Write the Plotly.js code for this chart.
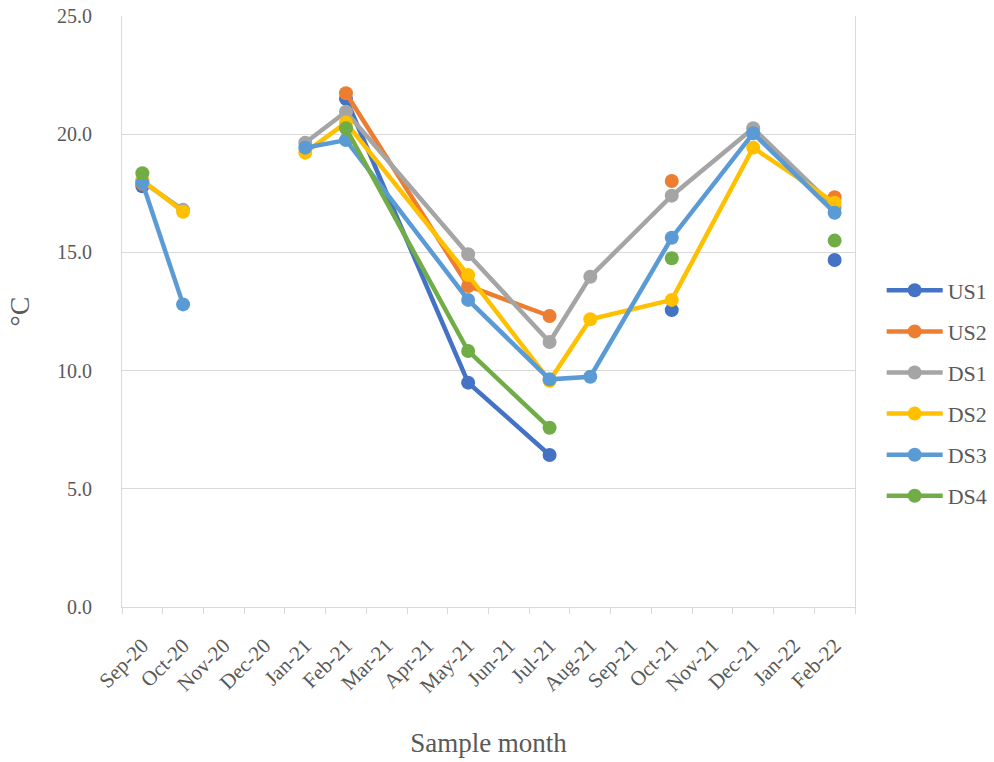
<!DOCTYPE html>
<html>
<head>
<meta charset="utf-8">
<script src="https://cdn.plot.ly/plotly-3.0.1.min.js"></script>
<style>html,body{margin:0;padding:0;background:#fff;}#chart{width:994px;height:762px;}</style>
</head>
<body>
<div id="chart"></div>
<script>
const axisMonths = ['Sep-20','Oct-20','Nov-20','Dec-20','Jan-21','Feb-21','Mar-21','Apr-21','May-21','Jun-21','Jul-21','Aug-21','Sep-21','Oct-21','Nov-21','Dec-21','Jan-22','Feb-22'];
const sampleRows = ['Sep-20','Oct-20','Nov-20','Dec-20','Jan-21','Feb-21','May-21','Jul-21','Aug-21','Oct-21','Dec-21','Feb-22'];
const US1 = [17.8, null, null, null, null, 21.5, 9.49, 6.43, null, 12.56, null, 14.68];
const US2 = [17.9, null, null, null, null, 21.73, 13.58, 12.31, null, 18.02, null, 17.33];
const DS1 = [18.0, 16.8, null, null, 19.64, 20.95, 14.92, 11.21, 13.97, 17.4, 20.25, 16.9];
const DS2 = [18.05, 16.72, null, null, 19.22, 20.49, 14.04, 9.57, 12.17, 12.99, 19.43, 17.1];
const DS3 = [17.95, 12.8, null, null, 19.43, 19.75, 12.99, 9.63, 9.74, 15.62, 20.04, 16.68];
const DS4 = [18.35, null, null, null, null, 20.25, 10.83, 7.58, null, 14.75, null, 15.5];
const seriesNames = ['US1','US2','DS1','DS2','DS3','DS4'];
const seriesValues = [US1, US2, DS1, DS2, DS3, DS4];
const seriesColors = ['#4472C4','#ED7D31','#A5A5A5','#FFC000','#5B9BD5','#70AD47'];

const traces = seriesNames.map((n, i) => ({
  type: 'scatter', mode: 'lines+markers', name: n,
  x: sampleRows, y: seriesValues[i],
  connectgaps: false,
  legendgroup: n,
  line: {color: seriesColors[i], width: 4.5},
  marker: {color: seriesColors[i], size: 14}
}));

const font = 'Liberation Serif, Times New Roman, serif';
const layout = {
  width: 994, height: 762,
  margin: {l: 122, r: 139, t: 16, b: 155, autoexpand: false},
  paper_bgcolor: '#fff', plot_bgcolor: '#fff',
  font: {family: font, color: '#595959', size: 20},
  showlegend: true,
  legend: {xref: 'container', yref: 'container', x: 0.887, xanchor: 'left', y: 0.4836, yanchor: 'middle',
           font: {family: font, size: 22, color: '#595959'},
           tracegroupgap: 9.5, itemwidth: 56},
  xaxis: {
    type: 'category', categoryorder: 'array', categoryarray: axisMonths,
    range: [-0.5, 17.5], tickangle: -45, tickson: 'boundaries',
    ticks: 'outside', ticklen: 6, tickcolor: '#D9D9D9',
    showline: true, linecolor: '#D9D9D9', linewidth: 1, mirror: false,
    showgrid: false, zeroline: false, ticklabelstandoff: 17,
    tickfont: {family: font, size: 21, color: '#595959'},
    title: {text: 'Sample month', font: {family: font, size: 27, color: '#595959'}, standoff: 36}
  },
  yaxis: {
    range: [0, 25], dtick: 5, tickformat: '.1f',
    showgrid: true, gridcolor: '#D9D9D9', gridwidth: 1,
    showline: true, linecolor: '#D9D9D9', linewidth: 1, mirror: true,
    zeroline: false, ticks: '', ticklabelstandoff: 25,
    tickfont: {family: font, size: 20, color: '#595959'},
    title: {text: '°C', font: {family: font, size: 28, color: '#595959'}, standoff: 19}
  }
};
Plotly.newPlot('chart', traces, layout, {displayModeBar: false, staticPlot: true});
</script>
</body>
</html>
